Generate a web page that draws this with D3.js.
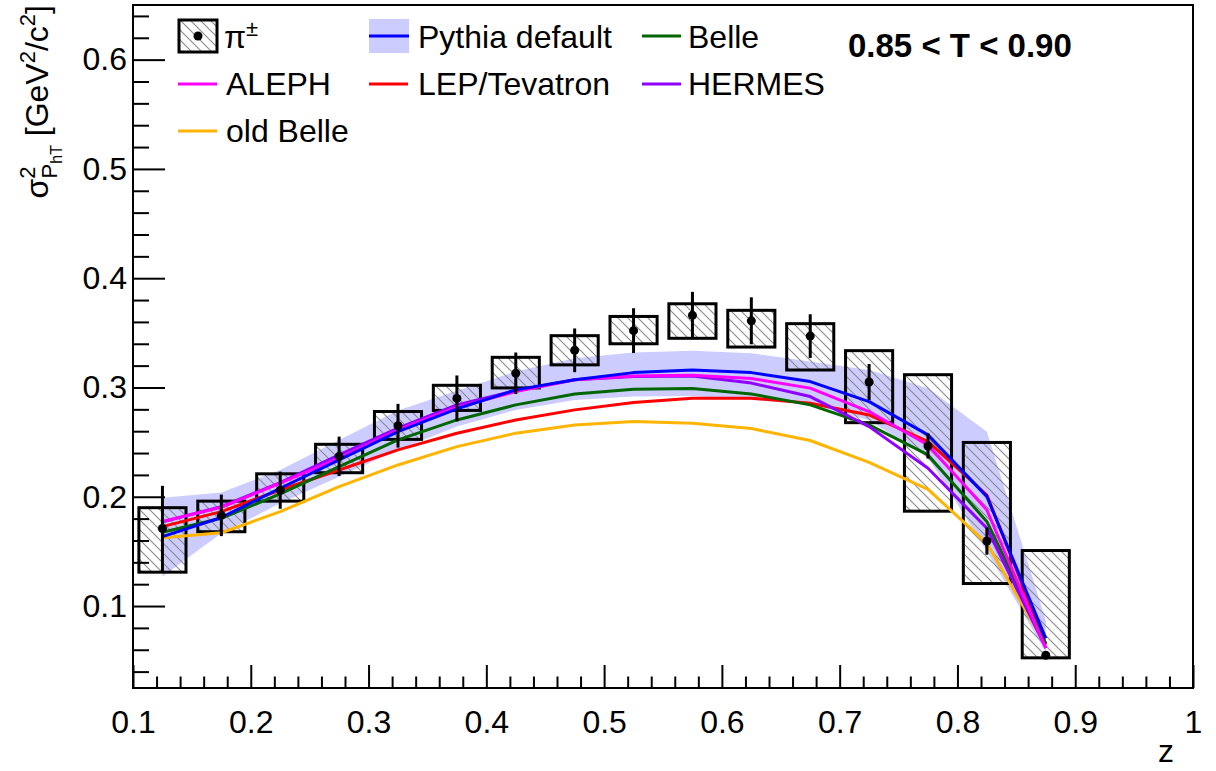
<!DOCTYPE html>
<html><head><meta charset="utf-8">
<script src="https://cdn.jsdelivr.net/npm/d3@7"></script>
<style>
body{margin:0;background:#fff}
svg{display:block}
text{font-family:"Liberation Sans",Arial,Helvetica,sans-serif;fill:#000}
</style>
</head><body>
<svg id="c" width="1216" height="771"></svg>
<script>
// ---------------- data ----------------
const zBins = [0.125,0.175,0.225,0.275,0.325,0.375,0.425,0.475,0.525,0.575,0.625,0.675,0.725,0.775,0.825,0.875];
const piVal  = [0.171,0.183,0.206,0.237,0.265,0.290,0.313,0.334,0.352,0.366,0.361,0.347,0.305,0.2465,0.1595,0.055];
const statErr= [0.039,0.019,0.017,0.018,0.020,0.021,0.019,0.020,0.0205,0.0215,0.0215,0.020,0.0165,0.0115,0.0125,0.003];
const sysHigh= [0.190,0.196,0.221,0.248,0.278,0.302,0.3276,0.3474,0.365,0.3766,0.3706,0.3584,0.3337,0.3117,0.2497,0.1508];
const sysLow = [0.131,0.168,0.196,0.222,0.2525,0.279,0.2996,0.3207,0.340,0.345,0.337,0.316,0.2678,0.1868,0.1206,0.0526];
const pythia     = [0.1635,0.181,0.2078,0.2337,0.2596,0.2805,0.2978,0.307,0.3136,0.3161,0.3136,0.3054,0.2871,0.2566,0.2001,0.0704];
const pythiaHigh = [0.199,0.204,0.2245,0.252,0.279,0.297,0.3146,0.3268,0.332,0.3335,0.3314,0.3237,0.316,0.2994,0.2596,0.087];
const pythiaLow  = [0.127,0.1666,0.194,0.2184,0.2429,0.2642,0.2795,0.2886,0.2917,0.2923,0.2886,0.285,0.270,0.236,0.150,0.058];
const aleph    = [0.1773,0.1904,0.2124,0.2353,0.2612,0.282,0.2962,0.307,0.3106,0.3112,0.3082,0.2994,0.278,0.2474,0.1879,0.0613];
const lepTev   = [0.1727,0.1864,0.2062,0.2245,0.2429,0.2581,0.2703,0.2795,0.2862,0.2902,0.2902,0.2856,0.2749,0.2505,0.2016,0.065];
const belle    = [0.1675,0.1803,0.2026,0.2276,0.252,0.2703,0.2841,0.2941,0.2984,0.299,0.2941,0.2841,0.2658,0.2383,0.1772,0.0658];
const hermes   = [0.177,0.191,0.213,0.2383,0.2627,0.2841,0.297,0.307,0.310,0.3105,0.304,0.2917,0.2642,0.2261,0.1712,0.062];
const oldBelle = [0.1625,0.1671,0.1864,0.2093,0.2291,0.2459,0.2582,0.2657,0.2688,0.2673,0.2624,0.2515,0.2314,0.2068,0.1574,0.064];

const xTicks = [0.1,0.2,0.3,0.4,0.5,0.6,0.7,0.8,0.9,1.0];
const xTickLabels = ["0.1","0.2","0.3","0.4","0.5","0.6","0.7","0.8","0.9","1"];
const yTicks = [0.1,0.2,0.3,0.4,0.5,0.6];
const yTickLabels = ["0.1","0.2","0.3","0.4","0.5","0.6"];

const curves = [
  {name:"ALEPH", vals:aleph, color:"#ff00ff"},
  {name:"LEP/Tevatron", vals:lepTev, color:"#ff0000"},
  {name:"Belle", vals:belle, color:"#006600"},
  {name:"HERMES", vals:hermes, color:"#8f00ff"},
  {name:"old Belle", vals:oldBelle, color:"#ffb400"},
  {name:"Pythia default", vals:pythia, color:"#0000ff"}
];
const drawOrder = ["old Belle","LEP/Tevatron","Belle","HERMES","ALEPH","Pythia default"];

// ---------------- chart ----------------
const svg = d3.select("#c");
const L=133, R=1193, T=5, B=688;
const x = d3.scaleLinear().domain([0.1,1.0]).range([L,R]);
const y = d3.scaleLinear().domain([0.025,0.65]).range([B,T]);

const defs = svg.append("defs");
defs.append("pattern").attr("id","hatch").attr("patternUnits","userSpaceOnUse")
  .attr("width",10).attr("height",10)
  .append("path").attr("d","M-2,-2 L12,12 M-7,3 L7,17 M3,-7 L17,7")
  .attr("stroke","#8a8a8a").attr("stroke-width",1.1);
defs.append("clipPath").attr("id","clip").append("rect")
  .attr("x",L).attr("y",T).attr("width",R-L).attr("height",B-T);

const plot = svg.append("g").attr("clip-path","url(#clip)");

// band
const band = d3.area().x((d,i)=>x(zBins[i])).y0((d,i)=>y(pythiaLow[i])).y1((d,i)=>y(pythiaHigh[i]));
plot.append("path").datum(zBins).attr("d",band).attr("fill","#ccccff").attr("stroke","none");

// sys boxes
const bw = 0.02;
plot.selectAll("rect.sys").data(zBins).enter().append("rect").attr("class","sys")
  .attr("x",d=>x(d-bw)).attr("width",d=>x(d+bw)-x(d-bw))
  .attr("y",(d,i)=>y(sysHigh[i])).attr("height",(d,i)=>y(sysLow[i])-y(sysHigh[i]))
  .attr("fill","url(#hatch)").attr("stroke","#000").attr("stroke-width",3);

// curves
const line = d3.line().x((d,i)=>x(zBins[i])).y(d=>y(d));
drawOrder.forEach(n=>{
  const c = curves.find(k=>k.name===n);
  plot.append("path").datum(c.vals).attr("d",line).attr("fill","none")
    .attr("stroke",c.color).attr("stroke-width",3).attr("stroke-linejoin","round");
});

// stat error bars and points
plot.selectAll("line.err").data(zBins).enter().append("line").attr("class","err")
  .attr("x1",d=>x(d)).attr("x2",d=>x(d))
  .attr("y1",(d,i)=>y(piVal[i]+statErr[i])).attr("y2",(d,i)=>y(piVal[i]-statErr[i]))
  .attr("stroke","#000").attr("stroke-width",3);
plot.selectAll("circle.pt").data(zBins).enter().append("circle").attr("class","pt")
  .attr("cx",d=>x(d)).attr("cy",(d,i)=>y(piVal[i])).attr("r",4.5).attr("fill","#000");

// axes
const fsTick = 32;
const xMinor = d3.range(0.1,1.0001,0.02).map(v=>+v.toFixed(2)).filter(v=>!xTicks.some(t=>Math.abs(t-v)<1e-6));
const yMinor = d3.range(0.04,0.6401,0.02).map(v=>+v.toFixed(2)).filter(v=>!yTicks.some(t=>Math.abs(t-v)<1e-6));

const gx = svg.append("g").attr("transform",`translate(0,${B})`)
  .call(d3.axisBottom(x).tickValues(xTicks).tickFormat((d,i)=>xTickLabels[i]).tickSizeInner(-23).tickSizeOuter(0).tickPadding(22));
gx.select(".domain").remove();
gx.selectAll("line").attr("stroke","#000").attr("stroke-width",2);
gx.selectAll("text").style("font-size",fsTick+"px").attr("font-family",null);
const gxm = svg.append("g").attr("transform",`translate(0,${B})`)
  .call(d3.axisBottom(x).tickValues(xMinor).tickFormat("").tickSizeInner(-11.5).tickSizeOuter(0));
gxm.select(".domain").remove();
gxm.selectAll("line").attr("stroke","#000").attr("stroke-width",2);

const gy = svg.append("g").attr("transform",`translate(${L},0)`)
  .call(d3.axisLeft(y).tickValues(yTicks).tickFormat((d,i)=>yTickLabels[i]).tickSizeInner(-32).tickSizeOuter(0).tickPadding(6));
gy.select(".domain").remove();
gy.selectAll("line").attr("stroke","#000").attr("stroke-width",2);
gy.selectAll("text").style("font-size",fsTick+"px").attr("font-family",null);
const gym = svg.append("g").attr("transform",`translate(${L},0)`)
  .call(d3.axisLeft(y).tickValues(yMinor).tickFormat("").tickSizeInner(-16).tickSizeOuter(0));
gym.select(".domain").remove();
gym.selectAll("line").attr("stroke","#000").attr("stroke-width",2);

// frame
svg.append("rect").attr("x",L).attr("y",T).attr("width",R-L).attr("height",B-T)
  .attr("fill","none").attr("stroke","#000").attr("stroke-width",2);

// axis titles
svg.append("text").attr("x",1174).attr("y",762).attr("text-anchor","end").style("font-size","32px").text("z");
const yt = svg.append("text").attr("transform","translate(48,5) rotate(-90)")
  .attr("text-anchor","end").style("font-size","32px");
yt.append("tspan").text("σ");
yt.append("tspan").attr("dy",-13).style("font-size","22px").text("2");
yt.append("tspan").attr("dx",-12).attr("dy",22).style("font-size","22px").text("P");
yt.append("tspan").attr("dy",5).style("font-size","16px").text("hT");
yt.append("tspan").attr("dy",-14).text(" [GeV");
yt.append("tspan").attr("dy",-13).style("font-size","22px").text("2");
yt.append("tspan").attr("dy",13).text("/c");
yt.append("tspan").attr("dy",-13).style("font-size","22px").text("2");
yt.append("tspan").attr("dy",13).text("]");

// label
svg.append("text").attr("x",848).attr("y",57).style("font-size","33px").style("font-weight","bold")
  .text("0.85 < T < 0.90");

// legend
const lg = svg.append("g");
const fsLeg = 32;
// pi entry
lg.append("rect").attr("x",179).attr("y",20).attr("width",38).attr("height",32)
  .attr("fill","url(#hatch)").attr("stroke","#000").attr("stroke-width",3);
lg.append("circle").attr("cx",198).attr("cy",36).attr("r",4.5).attr("fill","#000");
const pt = lg.append("text").attr("x",224).attr("y",48).style("font-size",fsLeg+"px");
pt.append("tspan").text("π");
pt.append("tspan").attr("dy",-12).style("font-size","22px").text("±");
// pythia entry
lg.append("rect").attr("x",369).attr("y",19).attr("width",40).attr("height",34).attr("fill","#ccccff");
lg.append("line").attr("x1",369).attr("x2",409).attr("y1",36).attr("y2",36).attr("stroke","#0000ff").attr("stroke-width",3);
lg.append("text").attr("x",418).attr("y",48).style("font-size",fsLeg+"px").text("Pythia default");
const legLines = [
  {name:"Belle", sx:642, tx:688, cy:36, by:48},
  {name:"ALEPH", sx:178, tx:226, cy:84, by:95},
  {name:"LEP/Tevatron", sx:369, tx:418, cy:84, by:95},
  {name:"HERMES", sx:642, tx:688, cy:84, by:95},
  {name:"old Belle", sx:178, tx:226, cy:131, by:142}
];
legLines.forEach(e=>{
  const c = curves.find(k=>k.name===e.name);
  lg.append("line").attr("x1",e.sx).attr("x2",e.sx+39).attr("y1",e.cy).attr("y2",e.cy)
    .attr("stroke",c.color).attr("stroke-width",3);
  lg.append("text").attr("x",e.tx).attr("y",e.by).style("font-size",fsLeg+"px").text(e.name);
});
</script>
</body></html>
